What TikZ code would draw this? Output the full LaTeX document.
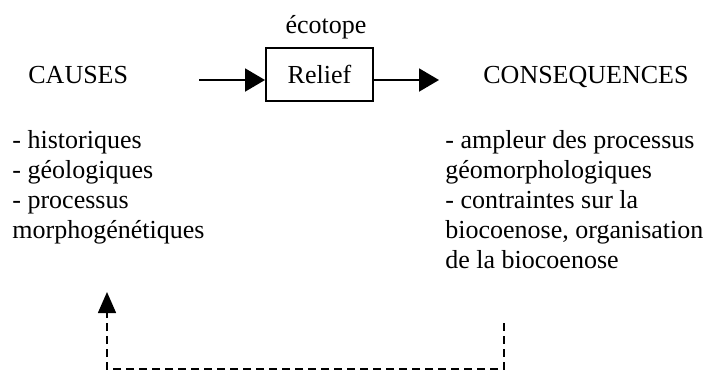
\documentclass[tikz,border=0pt]{standalone}
\usepackage{fontspec}
\setmainfont{Liberation Serif}
\usetikzlibrary{arrows.meta}
\begin{document}
\begin{tikzpicture}[x=0.5pt,y=-0.5pt,
  font=\fontsize{13}{15}\selectfont,
  txt/.style={inner sep=0pt},
  listtxt/.style={inner sep=0pt, align=left, anchor=north west},
  flow/.style={line width=1pt, -{Triangle[length=10pt,width=11.5pt]}},
  feedback/.style={line width=0.8pt, dash pattern=on 4pt off 2.5pt,
    -{Triangle[length=10.5pt,width=9pt]}}]
\path[use as bounding box] (0,0) rectangle (713,372);

% central box and its label
\node[draw, line width=1pt, minimum width=53.5pt, minimum height=26.5pt, inner sep=0pt]
  (relief) at (319.5,74) {Relief};
\node[txt, anchor=base] (ecotope) at (326,33) {écotope};

% headings
\node[txt, anchor=base west] (causes) at (28,83) {CAUSES};
\node[txt, anchor=base west] (cons) at (483,83) {CONSEQUENCES};

% lists
\node[listtxt] (causelist) at (12,130)
  {- historiques\\- géologiques\\- processus\\morphogénétiques};
\node[listtxt] (conslist) at (445,130)
  {- ampleur des processus\\géomorphologiques\\- contraintes sur la\\biocoenose, organisation\\de la biocoenose};

% horizontal flow arrows
\coordinate (inStart) at (199,80);
\coordinate (outEnd) at (439,80);
\draw[flow] (inStart) -- (inStart -| relief.west);
\draw[flow] (relief.east |- outEnd) -- (outEnd);

% dashed feedback loop
\coordinate (fbStart) at (504,323);
\coordinate (fbBase) at (0,369);
\coordinate (fbEnd) at (107,292);
\draw[feedback] (fbStart) -- (fbStart |- fbBase) -- (fbEnd |- fbBase) -- (fbEnd);
\end{tikzpicture}
\end{document}
